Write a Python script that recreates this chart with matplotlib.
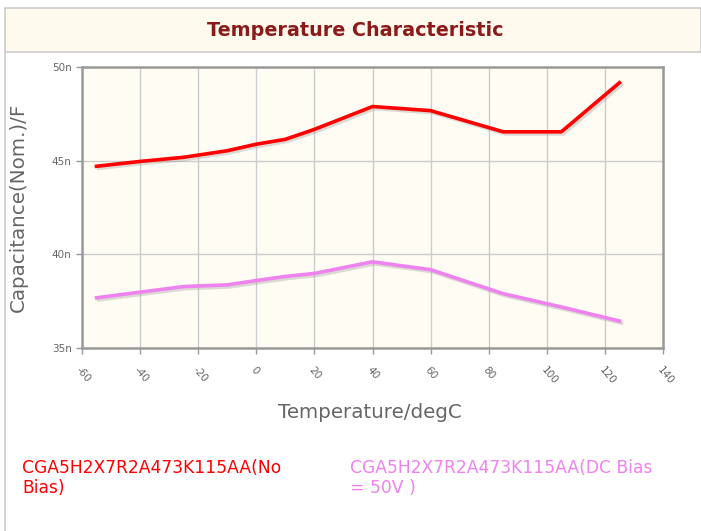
import matplotlib
matplotlib.use("Agg")
import matplotlib.pyplot as plt
import matplotlib.patheffects as pe
from matplotlib.patches import Rectangle
from matplotlib.ticker import FuncFormatter

# data
temps = [-55, -40, -25, -10, 0, 10, 20, 40, 60, 85, 105, 125]
cap_no_bias = [44.70, 44.96, 45.18, 45.53, 45.88, 46.14, 46.67, 47.89, 47.67, 46.54, 46.54, 49.16]
cap_dc_bias = [37.68, 37.98, 38.28, 38.37, 38.60, 38.82, 38.98, 39.60, 39.18, 37.90, 37.19, 36.44]
x_ticks = [-60, -40, -20, 0, 20, 40, 60, 80, 100, 120, 140]
y_ticks = [35, 40, 45, 50]
title = "Temperature Characteristic"
label_no_bias = "CGA5H2X7R2A473K115AA(No\nBias)"
label_dc_bias = "CGA5H2X7R2A473K115AA(DC Bias\n= 50V )"

RED = "#ff0000"
PINK = "#ee82ee"
GRAY_TXT = "#666666"

plt.rcParams["axes.unicode_minus"] = False

W, H = 701, 531
fig = plt.figure(figsize=(W / 100, H / 100), dpi=100)
fig.patch.set_facecolor("white")

# title band
fig.patches.append(Rectangle((5 / W, 1 - 52 / H), 1 - 5 / W, 44 / H,
                             transform=fig.transFigure, facecolor="#fefaed",
                             edgecolor="#cccccc", linewidth=1.2))
fig.lines.append(plt.Line2D([5 / W, 5 / W], [0, 1 - 52 / H], transform=fig.transFigure,
                            color="#cccccc", linewidth=1.2))
fig.text(355 / W, 1 - 31 / H, title, ha="center", va="center", fontsize=13.8,
         fontweight="bold", color="#8b1a1a")

ax = fig.add_axes([82 / W, 1 - 348 / H, 581 / W, 281 / H])
ax.set_facecolor("#fffcf3")

shadow = [pe.SimpleLineShadow(offset=(1.5, -1.5), shadow_color="#999999", alpha=0.35), pe.Normal()]
ax.plot(temps, cap_no_bias, color=RED, linewidth=2.6, path_effects=shadow, zorder=3)
ax.plot(temps, cap_dc_bias, color=PINK, linewidth=2.6, path_effects=shadow, zorder=3)

ax.set_xlim(-60, 140)
ax.set_ylim(35, 50)
ax.set_xticks(x_ticks)
ax.set_yticks(y_ticks)
ax.yaxis.set_major_formatter(FuncFormatter(lambda v, p: f"{int(v)}n"))
ax.grid(True, color="#cccccc", linewidth=1.0)
ax.set_axisbelow(True)
for s in ax.spines.values():
    s.set_color("#999999")
    s.set_linewidth(1.8)

ax.tick_params(axis="both", colors="#999999", length=4, width=1, labelsize=7.5,
               labelcolor=GRAY_TXT)
ax.tick_params(axis="x", pad=8)
for lbl in ax.get_xticklabels():
    lbl.set_rotation(-50)
    lbl.set_ha("left")
    lbl.set_va("top")
    lbl.set_rotation_mode("anchor")

fig.text(370 / W, 1 - 412 / H, "Temperature/degC", ha="center", va="center",
         fontsize=14.3, color=GRAY_TXT)
fig.text(18 / W, 1 - 207 / H, "Capacitance(Nom.)/F", ha="center", va="center",
         rotation=90, fontsize=14.3, color=GRAY_TXT)

fig.text(22 / W, 1 - 478 / H, label_no_bias, ha="left", va="center", fontsize=12.3,
         color=RED, linespacing=1.2)
fig.text(350 / W, 1 - 478 / H, label_dc_bias, ha="left", va="center", fontsize=12.3,
         color=PINK, linespacing=1.2)

fig.savefig("out.png", dpi=100)
